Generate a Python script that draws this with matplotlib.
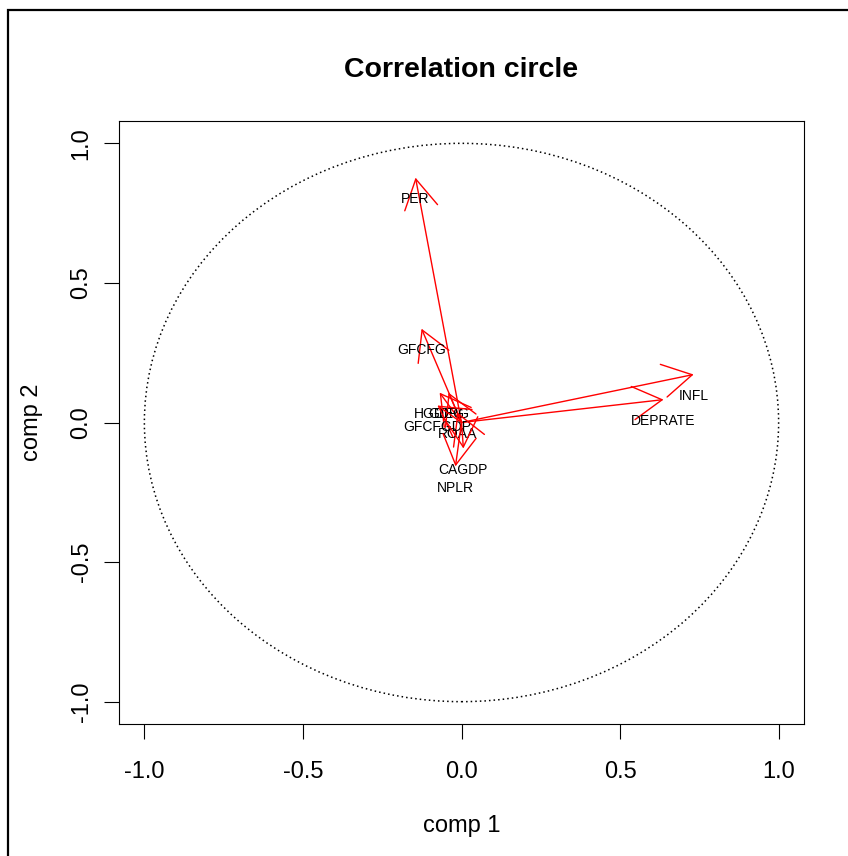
"""
Correlation circle of the first two components
"""

import matplotlib

matplotlib.use("Agg")
import matplotlib.pyplot as plt
import numpy as np
from matplotlib.patches import Ellipse, Rectangle

plt.rcParams["font.family"] = ["Liberation Sans", "DejaVu Sans"]
plt.rcParams["axes.unicode_minus"] = False

# Loadings (arrow tips)
variables = ["PER", "GFCFG", "INFL", "DEPRATE", "HGDEG", "GDPG",
             "GFCFGDP", "ROAA", "CAGDP", "NPLR"]
comp1 = [-0.145, -0.126, 0.732, 0.637, -0.069, -0.041, -0.076, -0.013, 0.006, -0.019]
comp2 = [0.877, 0.336, 0.172, 0.082, 0.107, 0.107, 0.061, 0.036, -0.093, -0.157]

ticks = [-1.0, -0.5, 0.0, 0.5, 1.0]
tick_labels = ["-1.0", "-0.5", "0.0", "0.5", "1.0"]

W, H = 848, 856
fig = plt.figure(figsize=(W / 100, H / 100), dpi=100)
ax = fig.add_axes([119 / W, 1 - 724 / H, 685 / W, 603 / H])

# unit circle
ax.add_patch(Ellipse((0, 0), 2, 2, fill=False, color="black", lw=1.1,
                     linestyle=(0, (1, 2))))

for name, x, y in zip(variables, comp1, comp2):
    ax.annotate("", xy=(x, y), xytext=(0, 0),
                arrowprops=dict(arrowstyle="->,head_length=2.1,head_width=1.2",
                                color="red", lw=1.0, shrinkA=0, shrinkB=0))
    ax.text(x, y - 0.078, name, ha="center", va="center", fontsize=10)

ax.set_xlim(-1.08, 1.08)
ax.set_ylim(-1.08, 1.08)
ax.set_xticks(ticks, tick_labels)
ax.set_yticks(ticks, tick_labels, rotation=90, va="center")
ax.tick_params(axis="both", length=11, width=0.8, labelsize=17)
ax.tick_params(axis="x", pad=16)
ax.tick_params(axis="y", pad=8)
for sp in ax.spines.values():
    sp.set_linewidth(0.8)

ax.set_xlabel("comp 1", fontsize=17, va="center")
ax.xaxis.set_label_coords(0.5, -(826 - 724) / 603)
ax.set_ylabel("comp 2", fontsize=17, va="center")
ax.yaxis.set_label_coords(-(119 - 32) / 685, 0.5)

fig.text(461 / W, 1 - 70 / H, "Correlation circle", ha="center", va="center",
         fontsize=20.5, fontweight="bold")

# outer frame (only left and top edges fall inside the image)
fig.patches.append(Rectangle((8 / W, -0.2), 2, 1 - 10 / H + 0.2, fill=False,
                             lw=1.6, color="black", transform=fig.transFigure))

fig.savefig("out.png", dpi=100)
